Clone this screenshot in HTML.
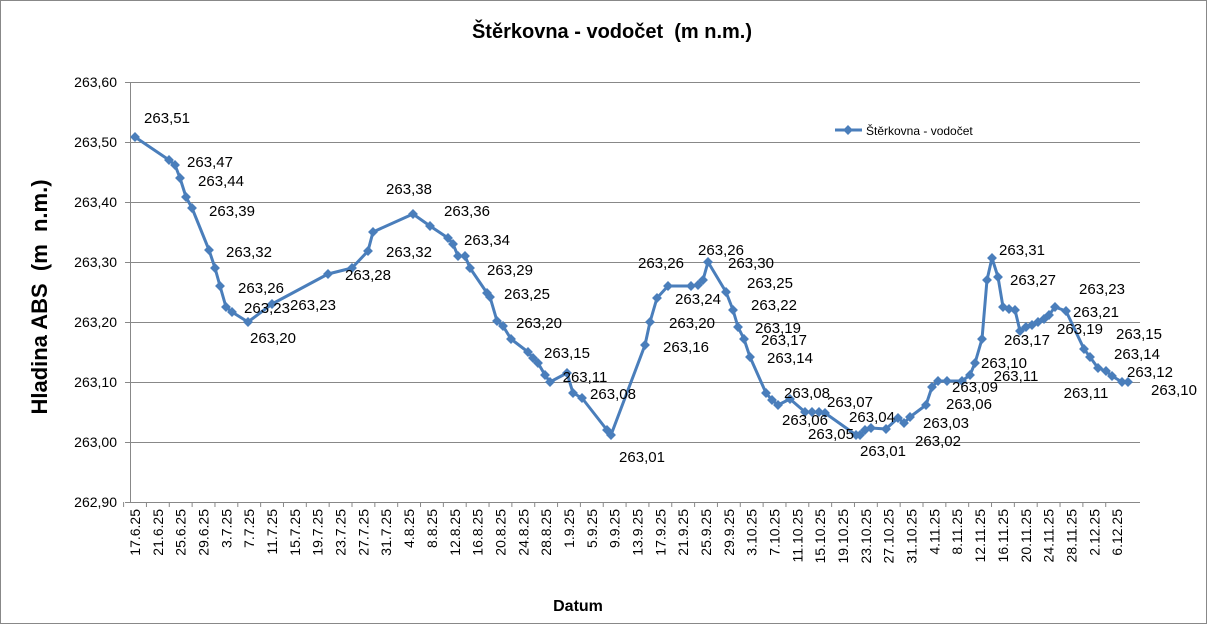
<!DOCTYPE html>
<html><head><meta charset="utf-8"><style>
body{margin:0;background:#fff}
svg{display:block;font-family:"Liberation Sans",sans-serif}
text{white-space:pre}
</style></head><body>
<svg width="1207" height="624" viewBox="0 0 1207 624">
<rect x="0.5" y="0.5" width="1206" height="623" fill="#fff" stroke="#888"/>
<text x="612" y="38" font-size="20" font-weight="bold" text-anchor="middle">Štěrkovna - vodočet  (m n.m.)</text>
<g stroke="#888" stroke-width="1">
<line x1="125" y1="82.5" x2="1140" y2="82.5"/>
<line x1="125" y1="142.5" x2="1140" y2="142.5"/>
<line x1="125" y1="202.5" x2="1140" y2="202.5"/>
<line x1="125" y1="262.5" x2="1140" y2="262.5"/>
<line x1="125" y1="322.5" x2="1140" y2="322.5"/>
<line x1="125" y1="382.5" x2="1140" y2="382.5"/>
<line x1="125" y1="442.5" x2="1140" y2="442.5"/>
<line x1="125" y1="502.5" x2="1140" y2="502.5"/>
<line x1="130.5" y1="82" x2="130.5" y2="502"/>
</g>
<g font-size="14" text-anchor="end">
<text x="117" y="87">263,60</text><text x="117" y="147">263,50</text><text x="117" y="207">263,40</text><text x="117" y="267">263,30</text><text x="117" y="327">263,20</text><text x="117" y="387">263,10</text><text x="117" y="447">263,00</text><text x="117" y="507">262,90</text>
</g>
<text transform="translate(47,297) rotate(-90)" font-size="22" font-weight="bold" text-anchor="middle">Hladina ABS  (m  n.m.)</text>
<text x="578" y="611" font-size="16" font-weight="bold" text-anchor="middle">Datum</text>
<g id="xl" font-size="14" text-anchor="end"></g>
<g id="tk" stroke="#888"></g>
<polyline id="ln" fill="none" stroke="#4a7ebb" stroke-width="3" stroke-linejoin="round"/>
<g id="mk" fill="#4a7ebb"></g>
<g id="lb" font-size="15" text-anchor="middle"></g>
<line x1="835" y1="130" x2="862" y2="130" stroke="#4a7ebb" stroke-width="3"/>
<rect x="844.5" y="126.5" width="7" height="7" fill="#4a7ebb" transform="rotate(45 848 130)"/>
<text x="866" y="135" font-size="12">Štěrkovna - vodočet</text>
</svg>
<script>
var ns="http://www.w3.org/2000/svg";
function el(t,a,p,txt){var e=document.createElementNS(ns,t);for(var k in a)e.setAttribute(k,a[k]);if(txt)e.textContent=txt;document.getElementById(p).appendChild(e);}
var d=["17.6.25","21.6.25","25.6.25","29.6.25","3.7.25","7.7.25","11.7.25","15.7.25","19.7.25","23.7.25","27.7.25","31.7.25","4.8.25","8.8.25","12.8.25","16.8.25","20.8.25","24.8.25","28.8.25","1.9.25","5.9.25","9.9.25","13.9.25","17.9.25","21.9.25","25.9.25","29.9.25","3.10.25","7.10.25","11.10.25","15.10.25","19.10.25","23.10.25","27.10.25","31.10.25","4.11.25","8.11.25","12.11.25","16.11.25","20.11.25","24.11.25","28.11.25","2.12.25","6.12.25"];
for(var i=0;i<d.length;i++){var x=135+22.84*i;el("text",{transform:"translate("+(x+5)+",509) rotate(-90)"},"xl",d[i]);el("line",{x1:x-11.4,y1:502,x2:x-11.4,y2:507},"tk");}
var p=[[135,137],[169,160],[175,165],[180,178],[186,197],[192,208],[209,250],[215,268],[220,286],[226,307],[232,312],[248,322],[272,304],[328,274],[352,268],[368,251],[373,232],[413,214],[430,226],[448,238],[453,244],[458,256],[465,256],[470,268],[487,293],[490,297],[497,321],[503,326],[511,339],[528,352],[533,358],[538,363],[545,375],[550,382],[567,373],[573,393],[582,398],[607,430],[611,435],[645,345],[650,322],[657,298],[668,286],[691,286],[698,285],[703,280],[708,262],[726,292],[733,310],[738,327],[744,339],[750,357],[766,393],[772,400],[778,405],[790,399],[805,412],[812,412],[819,412],[825,413],[856,435],[860,435],[865,430],[871,428],[886,429],[898,418],[904,423],[910,417],[926,405],[932,387],[938,381],[947,381],[962,381],[970,375],[975,363],[982,339],[987,280],[992,258],[998,277],[1003,307],[1009,309],[1015,310],[1020,331],[1026,327],[1032,325],[1038,322],[1044,319],[1049,315],[1055,307],[1066,311],[1084,349],[1090,357],[1098,368],[1106,371],[1112,376],[1122,382],[1128,382]];
document.getElementById("ln").setAttribute("points",p.map(function(a){return a.join(",")}).join(" "));
p.forEach(function(a){el("rect",{x:a[0]-3.5,y:a[1]-3.5,width:7,height:7,transform:"rotate(45 "+a[0]+" "+a[1]+")"},"mk");});
var L=[["263,51",167,123],["263,47",210,167],["263,44",221,186],["263,39",232,216],["263,32",249,257],["263,26",261,293],["263,23",267,313],["263,23",313,310],["263,20",273,343],["263,28",368,280],["263,32",409,257],["263,38",409,194],["263,36",467,216],["263,34",487,245],["263,29",510,275],["263,25",527,299],["263,20",539,328],["263,15",567,358],["263,11",585,382],["263,08",613,399],["263,01",642,462],
["263,26",721,255],["263,26",661,268],["263,30",751,268],["263,25",770,288],["263,24",698,304],["263,22",774,310],["263,20",692,328],["263,19",778,333],["263,17",784,345],["263,16",686,352],["263,14",790,363],["263,08",807,398],["263,07",850,407],["263,06",805,425],["263,04",872,422],["263,05",831,439],["263,01",883,456],["263,03",946,428],["263,02",938,446],["263,09",975,392],["263,06",969,409],["263,10",1004,368],["263,11",1016,381],["263,31",1022,255],["263,27",1033,285],["263,17",1027,345],["263,23",1102,294],["263,21",1096,317],["263,19",1080,334],["263,15",1139,339],["263,14",1137,359],["263,12",1150,377],["263,11",1086,398],["263,10",1174,395]];
L.forEach(function(a){el("text",{x:a[1],y:a[2]},"lb",a[0]);});
</script>
</body></html>
